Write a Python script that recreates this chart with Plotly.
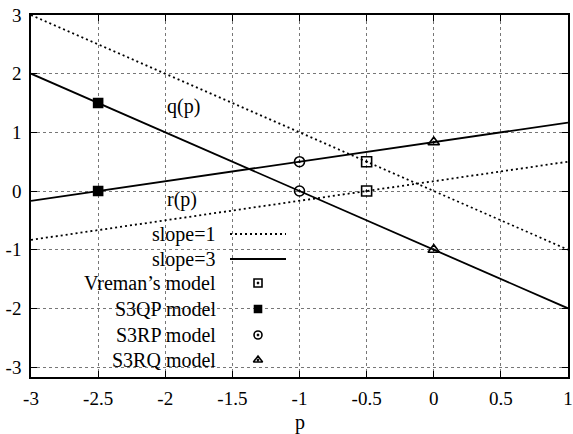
import plotly.graph_objects as go

# ---- data ----
p_ends = [-3, 1]
q_slope1 = [3.0, -1.0]
r_slope1 = [-0.833, 0.5]
q_slope3 = [2.0, -2.0]
r_slope3 = [-0.167, 1.167]

vreman_p = [-0.5, -0.5]
vreman_v = [0.5, 0.0]
s3qp_p = [-2.5, -2.5]
s3qp_v = [1.5, 0.0]
s3rp_p = [-1.0, -1.0]
s3rp_v = [0.5, 0.0]
s3rq_p = [0.0, 0.0]
s3rq_v = [0.833, -1.0]

x_ticks = [-3, -2.5, -2, -1.5, -1, -0.5, 0, 0.5, 1]
x_tick_labels = ["-3", "-2.5", "-2", "-1.5", "-1", "-0.5", "0", "0.5", "1"]
y_ticks = [-3, -2, -1, 0, 1, 2, 3]
y_tick_labels = ["-3", "-2", "-1", "0", "1", "2", "3"]
x_title = "p"

legend_labels = ["slope=1", "slope=3", "Vreman\u2019s model", "S3QP model", "S3RP model", "S3RQ model"]
curve_labels = ["q(p)", "r(p)"]

FONT = "Liberation Serif, Times New Roman, Times, serif"
FS_TICK = 19
FS_TEXT = 20

fig = go.Figure()

dot = "2px,3px"
for ys in (q_slope1, r_slope1):
    fig.add_trace(go.Scatter(x=p_ends, y=ys, mode="lines",
                             line=dict(color="black", width=1.8, dash=dot),
                             showlegend=False, hoverinfo="skip"))
for ys in (q_slope3, r_slope3):
    fig.add_trace(go.Scatter(x=p_ends, y=ys, mode="lines",
                             line=dict(color="black", width=1.8),
                             showlegend=False, hoverinfo="skip"))

marker_styles = [
    (vreman_p, vreman_v, "square-open-dot", 10),
    (s3qp_p, s3qp_v, "square", 9),
    (s3rp_p, s3rp_v, "circle-open-dot", 10),
    (s3rq_p, s3rq_v, "triangle-up-open-dot", 10),
]
for xs, ys, sym, sz in marker_styles:
    fig.add_trace(go.Scatter(x=xs, y=ys, mode="markers",
                             marker=dict(symbol=sym, size=sz, color="black",
                                         line=dict(color="black", width=1.6)),
                             showlegend=False, hoverinfo="skip", cliponaxis=False))

# ---- custom gnuplot-style legend on overlay axes (pixel units of plot area) ----
PW, PH = 537, 362
row_y = [219, 244, 268, 294, 320, 345]
text_right = 187
line_x0, line_x1 = 199, 255
mark_x = 227

for i, lab in enumerate(legend_labels):
    fig.add_annotation(x=text_right, y=row_y[i], xref="x2", yref="y2", text=lab,
                       showarrow=False, xanchor="right", yanchor="middle",
                       font=dict(family=FONT, size=FS_TEXT, color="black"))

fig.add_trace(go.Scatter(x=[line_x0, line_x1], y=[row_y[0]] * 2, xaxis="x2", yaxis="y2",
                         mode="lines", line=dict(color="black", width=1.8, dash=dot),
                         showlegend=False, hoverinfo="skip"))
fig.add_trace(go.Scatter(x=[line_x0, line_x1], y=[row_y[1]] * 2, xaxis="x2", yaxis="y2",
                         mode="lines", line=dict(color="black", width=1.8),
                         showlegend=False, hoverinfo="skip"))
for i, (_, _, sym, sz) in enumerate(marker_styles):
    fig.add_trace(go.Scatter(x=[mark_x], y=[row_y[i + 2]], xaxis="x2", yaxis="y2",
                             mode="markers",
                             marker=dict(symbol=sym, size=sz - 2, color="black",
                                         line=dict(color="black", width=1.6)),
                             showlegend=False, hoverinfo="skip"))

# curve labels
fig.add_annotation(x=-2.0, y=1.44, text=curve_labels[0], showarrow=False,
                   xanchor="left", yanchor="middle",
                   font=dict(family=FONT, size=FS_TEXT, color="black"))
fig.add_annotation(x=-2.0, y=-0.15, text=curve_labels[1], showarrow=False,
                   xanchor="left", yanchor="middle",
                   font=dict(family=FONT, size=FS_TEXT, color="black"))

# x-axis title
fig.add_annotation(x=0.5, y=0, xref="paper", yref="paper", text=x_title,
                   showarrow=False, xanchor="center", yanchor="top", yshift=-32,
                   font=dict(family=FONT, size=FS_TEXT, color="black"))

axis_common = dict(showline=True, linecolor="black", linewidth=1.5, mirror="ticks",
                   ticks="inside", ticklen=6, tickcolor="black", tickwidth=1,
                   showgrid=True, gridcolor="#777", griddash="dot", gridwidth=1,
                   zeroline=False, automargin=False, ticklabeloverflow="allow",
                   tickfont=dict(family=FONT, size=FS_TICK, color="black"))

fig.update_layout(
    width=573, height=434,
    margin=dict(l=31, r=5, t=15, b=57),
    font=dict(family=FONT, size=FS_TICK, color="black"),
    paper_bgcolor="white", plot_bgcolor="white",
    showlegend=False,
    xaxis=dict(range=[-3, 1], tickvals=x_ticks, ticktext=x_tick_labels,
               ticklabelstandoff=3, **axis_common),
    yaxis=dict(range=[-3.17, 3], tickvals=y_ticks, ticktext=y_tick_labels,
               ticklabelstandoff=4, **axis_common),
    xaxis2=dict(overlaying="x", range=[0, PW], visible=False, fixedrange=True),
    yaxis2=dict(overlaying="y", range=[PH, 0], visible=False, fixedrange=True),
)

# remove the page's default body margin so the figure fills the window exactly
fig.write_html("out.html",
               config={"displayModeBar": False},
               post_script="document.body.style.margin='0';document.body.style.padding='0';")
